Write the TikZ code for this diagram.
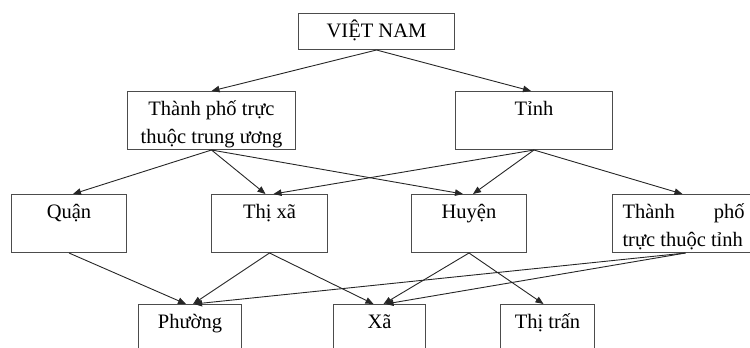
\documentclass[tikz,border=0pt]{standalone}
\usepackage{fontspec}
\setmainfont{Liberation Serif}
\usepackage{tikz}
\usetikzlibrary{calc, positioning, shapes, arrows.meta}
\tikzset{unit/.style={draw=black!70, line width=1pt, inner sep=0pt, fill=white},
	unitlabel/.style={inner sep=0pt, anchor=base, font=\fontsize{20.5pt}{28pt}\selectfont},
	link/.style={draw=black!85, line width=0.9pt, -{Triangle[length=8pt,width=6.5pt]}}}
\newcommand\unitbox[6]{\node[unit, minimum width=#4pt, minimum height=#5pt, anchor=north west] (#1) at (#2,#3) {};\node[unitlabel] (#1t) at ([yshift=-24pt]#1.north) {\parbox[t]{#4pt}{\centering #6}};}
\newcommand\lbox[5]{\node[unit, minimum width=#4pt, minimum height=#5pt, anchor=north west] (#1) at (#2,#3) {};\node[unitlabel] (#1t) at ([yshift=-24pt]#1.north) {\parbox[t]{122pt}{Thành\hfill phố\\trực thuộc tỉnh}};}

\begin{document}
\begin{tikzpicture}[x=1pt, y=-1pt]
\useasboundingbox (0,0) rectangle (750,348);
\unitbox{vn}{298}{13}{156}{36}{VIỆT NAM}
	\unitbox{tptw}{127}{91}{168}{58}{Thành phố trực\\thuộc trung ương}
	\unitbox{tinh}{455}{91}{157}{58}{Tỉnh}
	\unitbox{quan}{11}{194}{115}{58}{Quận}
	\unitbox{thixa}{211}{194}{116}{58}{Thị xã}
	\unitbox{huyen}{411}{194}{115}{58}{Huyện}
	\lbox{tptinh}{612}{194}{142}{58}
	\unitbox{phuong}{138}{304}{103}{58}{Phường}
	\unitbox{xa}{333}{304}{92}{58}{Xã}
	\unitbox{thitran}{500}{304}{94}{58}{Thị trấn}
	
	\draw[link] (vn.south) -- (tptw.north);
	\draw[link] (vn.south) -- ([xshift=-3pt]tinh.north);
	\draw[link] (tptw.south) -- ([xshift=4pt]quan.north);
	\draw[link] (tptw.south) -- ([xshift=-4pt]thixa.north);
	\draw[link] (tptw.south) -- ([xshift=-6pt]huyen.north);
	\draw[link] (tinh.south) -- ([xshift=4pt]thixa.north);
	\draw[link] (tinh.south) -- ([xshift=4pt]huyen.north);
	\draw[link] (tinh.south) -- ([xshift=-1pt]tptinh.north);
	\draw[link] (quan.south) -- ([xshift=-4pt]phuong.north);
	\draw[link] (thixa.south) -- ([xshift=3pt]phuong.north);
	\draw[link] (thixa.south) -- ([xshift=-6pt]xa.north);
	\draw[link] (huyen.south) -- ([xshift=4pt]xa.north);
	\draw[link] (huyen.south) -- ([xshift=-4pt]thitran.north);
	\draw[link] ([xshift=2pt]tptinh.south) -- ([xshift=4pt]phuong.north);
	\draw[link] ([xshift=2pt]tptinh.south) -- ([xshift=6pt]xa.north);
\end{tikzpicture}
\end{document}
